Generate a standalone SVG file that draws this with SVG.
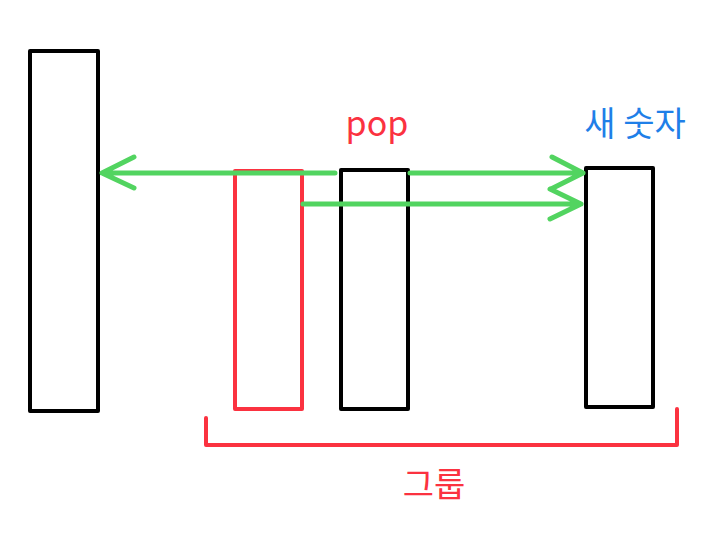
<svg xmlns="http://www.w3.org/2000/svg" width="708" height="534" viewBox="0 0 708 534">
<style>
.box{fill:none;stroke:#000;stroke-width:4;stroke-linejoin:round}
.red{fill:none;stroke:#fb3240;stroke-width:4;stroke-linejoin:round;stroke-linecap:round}
.arr{fill:none;stroke:#52d460;stroke-width:5;stroke-linecap:round;stroke-linejoin:round}
.t{font-family:"Noto Sans CJK KR","Liberation Sans",sans-serif;font-size:34px}
</style>
<rect width="708" height="534" fill="#fff"/>
<g id="node-left"><rect class="box" x="30" y="51" width="68" height="360"/></g>
<g id="node-red"><rect class="red" x="235" y="171" width="67" height="238" stroke-linecap="butt"/></g>
<g id="node-mid"><rect class="box" x="341" y="170" width="67" height="239"/></g>
<g id="node-right"><rect class="box" x="586" y="168" width="67" height="239"/></g>
<g id="connectors">
<path class="arr" d="M335 173 L102 173 M134 157 L102 173 L134 188"/>
<path class="arr" d="M410 173 L583 173 M552 157 L583 173 L551 189"/>
<path class="arr" d="M303 204 L581 204 M550 189 L581 204 L550 219"/>
</g>
<g id="bracket"><path class="red" d="M206 418 L206 445 L677 445 L677 409"/></g>
<g id="labels">
<text class="t" x="377" y="136" fill="#fb3240" text-anchor="middle">pop</text>
<text class="t" x="635" y="136" fill="#1f7fe8" text-anchor="middle">새 숫자</text>
<text class="t" x="434" y="497" fill="#fb3240" text-anchor="middle">그룹</text>
</g>
</svg>
